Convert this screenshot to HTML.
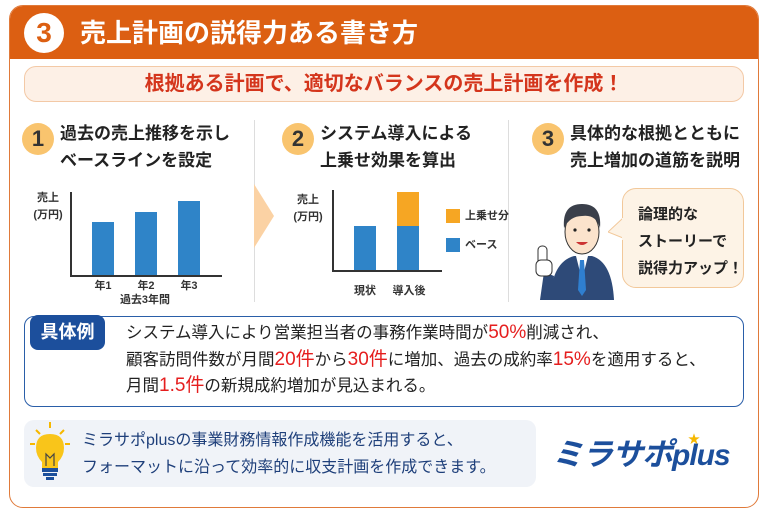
<!DOCTYPE html>
<html><head><meta charset="utf-8"><style>
*{margin:0;padding:0;box-sizing:border-box}
body{width:766px;height:522px;background:#fff;position:relative;overflow:hidden;font-family:"Liberation Sans","Noto Sans CJK JP",sans-serif;color:#222}
.a{position:absolute;white-space:nowrap}
.card{left:9px;top:5px;width:750px;height:503px;border:1.5px solid #e07a3a;border-radius:14px;overflow:hidden}
.hdr{left:0;top:0;width:750px;height:53px;background:#dc5f12}
.num{width:32px;height:32px;border-radius:50%;background:#f9c46e;color:#333;font-size:22px;font-weight:bold;text-align:center;line-height:32px}
.h{font-size:17px;font-weight:bold;line-height:27px;color:#222}
.lbl{font-size:11px;font-weight:bold;color:#333;text-align:center}
.red{color:#e51e1e;font-size:19px}
</style></head><body>
<div class="a card"><div class="a hdr"></div></div>
<div class="a" style="left:24px;top:13px;width:40px;height:40px;border-radius:50%;background:#fff;color:#dc5f12;font-size:28px;font-weight:bold;text-align:center;line-height:40px">3</div>
<div class="a" style="left:80px;top:14px;font-size:26px;font-weight:bold;color:#fff;line-height:38px">売上計画の説得力ある書き方</div>
<div class="a" style="left:24px;top:66px;width:720px;height:36px;background:#fdf0e6;border:1px solid #f3c9a6;border-radius:12px;text-align:center;font-size:20px;color:#d4351c;line-height:34px;font-weight:bold">根拠ある計画で、適切なバランスの売上計画を作成！</div>

<div class="a" style="left:254px;top:120px;width:1px;height:182px;background:#ddd"></div>
<div class="a" style="left:508px;top:120px;width:1px;height:182px;background:#ddd"></div>
<svg class="a" style="left:254px;top:184px" width="22" height="64"><polygon points="0,0 20,32 0,64" fill="#fbd2a4"/></svg>

<div class="a num" style="left:22px;top:123px">1</div>
<div class="a h" style="left:60px;top:120px">過去の売上推移を示し<br>ベースラインを設定</div>
<div class="a num" style="left:282px;top:123px">2</div>
<div class="a h" style="left:320px;top:120px">システム導入による<br>上乗せ効果を算出</div>
<div class="a num" style="left:532px;top:123px">3</div>
<div class="a h" style="left:570px;top:120px">具体的な根拠とともに<br>売上増加の道筋を説明</div>

<!-- chart1 -->
<div class="a lbl" style="left:30px;top:190px;width:36px;line-height:17px">売上<br>(万円)</div>
<div class="a" style="left:70px;top:192px;width:1.5px;height:84px;background:#333"></div>
<div class="a" style="left:70px;top:275px;width:152px;height:1.5px;background:#333"></div>
<div class="a" style="left:92px;top:222px;width:22px;height:53px;background:#2f84c8"></div>
<div class="a" style="left:135px;top:212px;width:22px;height:63px;background:#2f84c8"></div>
<div class="a" style="left:178px;top:201px;width:22px;height:74px;background:#2f84c8"></div>
<div class="a lbl" style="left:88px;top:278px;width:30px;line-height:16px">年1</div>
<div class="a lbl" style="left:131px;top:278px;width:30px;line-height:16px">年2</div>
<div class="a lbl" style="left:174px;top:278px;width:30px;line-height:16px">年3</div>
<div class="a lbl" style="left:110px;top:292px;width:70px;line-height:16px">過去3年間</div>

<!-- chart2 -->
<div class="a lbl" style="left:290px;top:192px;width:36px;line-height:17px">売上<br>(万円)</div>
<div class="a" style="left:332px;top:190px;width:1.5px;height:81px;background:#333"></div>
<div class="a" style="left:332px;top:270px;width:110px;height:1.5px;background:#333"></div>
<div class="a" style="left:354px;top:226px;width:22px;height:44px;background:#2f84c8"></div>
<div class="a" style="left:397px;top:226px;width:22px;height:44px;background:#2f84c8"></div>
<div class="a" style="left:397px;top:192px;width:22px;height:34px;background:#f6a623"></div>
<div class="a" style="left:446px;top:209px;width:14px;height:14px;background:#f6a623"></div>
<div class="a" style="left:446px;top:238px;width:14px;height:14px;background:#2f84c8"></div>
<div class="a lbl" style="left:465px;top:208px;line-height:16px;text-align:left">上乗せ分</div>
<div class="a lbl" style="left:465px;top:237px;line-height:16px;text-align:left">ベース</div>
<div class="a lbl" style="left:350px;top:283px;width:30px;line-height:16px">現状</div>
<div class="a lbl" style="left:388px;top:283px;width:42px;line-height:16px">導入後</div>

<!-- person -->
<svg class="a" style="left:530px;top:190px" width="90" height="110">
<path d="M20 110 Q22 72 44 66 L62 66 Q82 72 84 110Z" fill="#2e4a78"/>
<polygon points="46,66 58,66 52,90" fill="#fff"/>
<polygon points="50,70 54,70 56,100 52,106 48,100" fill="#2f7fd0"/>
<ellipse cx="52" cy="42" rx="17" ry="22" fill="#fbe3cc" stroke="#333"/>
<path d="M34 38 Q32 14 52 14 Q72 14 70 38 Q66 24 52 26 Q40 26 34 38Z" fill="#3a3f4a"/>
<circle cx="45" cy="40" r="1.6" fill="#222"/><circle cx="59" cy="40" r="1.6" fill="#222"/>
<path d="M46 52 Q52 58 58 52Z" fill="#c33"/>
<path d="M10 110 L14 82 L24 86 L22 110Z" fill="#2e4a78"/>
<rect x="8" y="56" width="9" height="24" rx="4" fill="#fff" stroke="#333"/>
<rect x="6" y="70" width="16" height="16" rx="5" fill="#fff" stroke="#333"/>
</svg>
<div class="a" style="left:622px;top:188px;width:122px;height:100px;background:#fdf3e6;border:1px solid #f2c89a;border-radius:14px"></div>
<svg class="a" style="left:608px;top:218px" width="16" height="22"><polygon points="15,0 0,14 15,20" fill="#fdf3e6" stroke="#f2c89a"/><rect x="14" y="0" width="3" height="22" fill="#fdf3e6"/></svg>
<div class="a" style="left:638px;top:201px;font-size:15px;font-weight:bold;line-height:27px;color:#222">論理的な<br>ストーリーで<br>説得力アップ！</div>

<!-- example -->
<div class="a" style="left:24px;top:316px;width:720px;height:91px;border:1.5px solid #2a5ea8;border-radius:10px"></div>
<div class="a" style="left:30px;top:315px;width:75px;height:35px;background:#1c4f9c;border-radius:8px;color:#fff;font-size:18px;font-weight:bold;text-align:center;line-height:35px">具体例</div>
<div class="a" style="left:126px;top:320px;font-size:16.5px;line-height:26.5px;color:#222">システム導入により営業担当者の事務作業時間が<span class="red">50%</span>削減され、<br>顧客訪問件数が月間<span class="red">20件</span>から<span class="red">30件</span>に増加、過去の成約率<span class="red">15%</span>を適用すると、<br>月間<span class="red">1.5件</span>の新規成約増加が見込まれる。</div>

<!-- bottom -->
<div class="a" style="left:24px;top:420px;width:512px;height:67px;background:#f0f3f8;border-radius:10px"></div>
<svg class="a" style="left:28px;top:420px" width="46" height="62">
<g stroke="#f6b800" stroke-width="2"><line x1="22" y1="2" x2="22" y2="8"/><line x1="8" y1="10" x2="12" y2="14"/><line x1="36" y1="10" x2="32" y2="14"/><line x1="2" y1="24" x2="7" y2="24"/><line x1="42" y1="24" x2="37" y2="24"/></g>
<path d="M22 14 Q36 14 36 28 Q36 36 30 42 L30 48 L14 48 L14 42 Q8 36 8 28 Q8 14 22 14Z" fill="#f9c51a"/>
<path d="M18 46 L18 34 L22 38 L26 34 L26 46" stroke="#444" fill="none" stroke-width="1.2"/>
<rect x="14" y="48" width="16" height="4" fill="#1c4f9c"/><rect x="15" y="53" width="14" height="3" fill="#1c4f9c"/><rect x="18" y="57" width="8" height="3" fill="#1c4f9c"/>
</svg>
<div class="a" style="left:82px;top:427px;font-size:16px;line-height:27px;color:#1e3f7a">ミラサポplusの事業財務情報作成機能を活用すると、<br>フォーマットに沿って効率的に収支計画を作成できます。</div>
<div class="a" style="left:552px;top:434px;font-size:31px;font-weight:bold;font-style:italic;color:#1c4f9c;line-height:42px;letter-spacing:-1px">ミラサポ<span style="font-size:30px">plus</span></div>
<div class="a" style="left:688px;top:430px;color:#f6b800;font-size:12px">★</div>
</body></html>
